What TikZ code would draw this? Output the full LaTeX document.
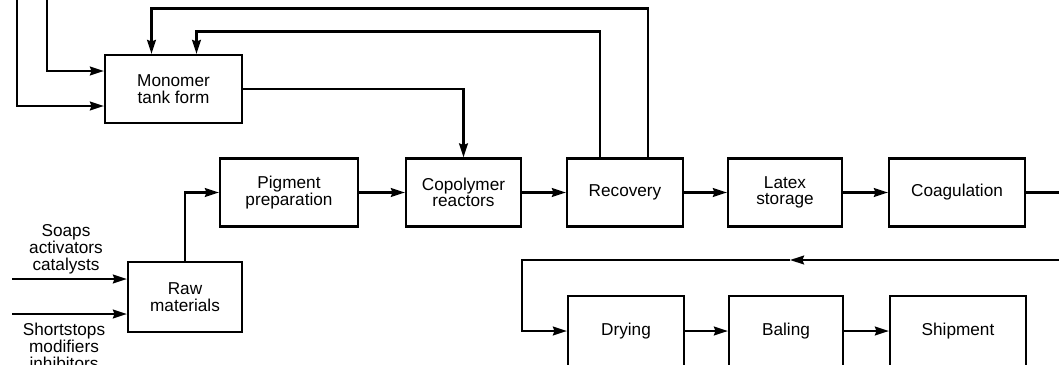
\documentclass[tikz,border=0pt]{standalone}
\usepackage{fontspec}
\setmainfont{Liberation Sans}
\usetikzlibrary{arrows.meta}
\tikzset{
  bloque/.style={draw, line width=1.1pt, minimum height=34pt, align=center,
    font=\fontsize{8.6}{8.2}\selectfont},
  flecha/.style={line width=1.1pt, -{Stealth[length=7pt,width=4.4pt,inset=0.8pt]}},
  linea/.style={line width=1.1pt},
  rotulo/.style={align=center, font=\fontsize{8.6}{8.5}\selectfont}
}
\begin{document}
\begin{tikzpicture}[x=0.5pt,y=-0.5pt]
  \useasboundingbox (0,0) rectangle (1059,364);
  \clip (0,0) rectangle (1059,364);

  % Bloques de la linea principal
  \node[bloque, minimum width=68.5pt] (tanque) at (173.5,89) {Monomer\\tank form};
  \node[bloque, minimum width=69pt] (pigmento) at (289,192.5) {Pigment\\preparation};
  \node[bloque, minimum width=57.5pt] (reactor) at (463.5,192.5) {Copolymer\\reactors};
  \node[bloque, minimum width=58pt] (recup) at (625,192.5) {Recovery};
  \node[bloque, minimum width=57pt] (latex) at (785,192.5) {Latex\\storage};
  \node[bloque, minimum width=68pt] (coag) at (957,192.5) {Coagulation};
  \node[bloque, minimum width=57pt, minimum height=35pt] (materia) at (185,297) {Raw\\materials};

  % Bloques de la linea inferior
  \node[bloque, minimum width=58pt, minimum height=35pt] (secado) at (626,331) {Drying};
  \node[bloque, minimum width=57pt, minimum height=35pt] (empaque) at (786,331) {Baling};
  \node[bloque, minimum width=68pt, minimum height=35pt] (envio) at (958,331) {Shipment};

  % Entradas al tanque
  \coordinate (entA) at (47,-10);
  \coordinate (entB) at (17,-10);
  \draw[flecha] (entA) |- ([yshift=9pt]tanque.west);
  \draw[flecha] (entB) |- ([yshift=-8.5pt]tanque.west);

  % Retornos desde recuperacion
  \draw[flecha] ([xshift=11.5pt]recup.north) -- ++(0,-149) -| ([xshift=-11pt]tanque.north);
  \draw[flecha] ([xshift=-12.5pt]recup.north) -- ++(0,-126) -| ([xshift=11.5pt]tanque.north);
  \draw[flecha] (tanque.east) -| (reactor.north);

  % Materias primas
  \coordinate (jabon) at (12,279);
  \coordinate (paro) at (12,314);
  \draw[flecha] (jabon) -- (jabon -| materia.west);
  \draw[flecha] (paro) -- (paro -| materia.west);
  \node[rotulo] (txtA) at (66,249) {Soaps\\activators\\catalysts};
  \node[rotulo] (txtB) at (64,346) {Shortstops\\modifiers\\inhibitors};
  \draw[flecha] (materia.north) |- (pigmento.west);

  % Cadena principal
  \draw[flecha] (pigmento.east) -- (reactor.west);
  \draw[flecha] (reactor.east) -- (recup.west);
  \draw[flecha] (recup.east) -- (latex.west);
  \draw[flecha] (latex.east) -- (coag.west);

  % Vuelta hacia la linea inferior
  \coordinate (salida) at (1070,192.5);
  \coordinate (vuelta) at (1070,260);
  \coordinate (medio) at (790,260);
  \coordinate (bajada) at (522,260);
  \draw[linea] (coag.east) -- (salida);
  \draw[flecha] (vuelta) -- (medio);
  \draw[flecha] (medio) -- (bajada) |- (secado.west);
  \draw[flecha] (secado.east) -- (empaque.west);
  \draw[flecha] (empaque.east) -- (envio.west);
\end{tikzpicture}
\end{document}
